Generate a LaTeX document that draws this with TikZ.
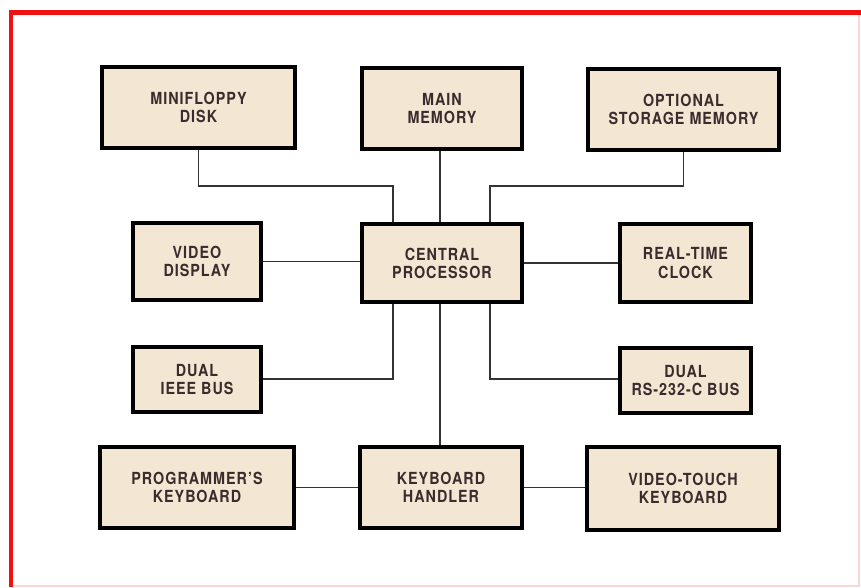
\documentclass[tikz,border=0pt]{standalone}
\usepackage{fontspec}
\setmainfont{TeX Gyre Heros}[FakeStretch=0.86,LetterSpace=6]
\definecolor{boxfill}{HTML}{F3E6D3}
\definecolor{txt}{HTML}{3A2C2C}
\definecolor{frame}{HTML}{F01010}
\definecolor{faint}{HTML}{F8D8D4}
\begin{document}
\begin{tikzpicture}[x=0.75pt,y=-0.75pt,
  blk/.style={draw=black,line width=2.3pt,fill=boxfill,align=center,
    font=\fontsize{12.5}{13.6}\selectfont\bfseries,text=txt,inner sep=0pt},
  wire/.style={draw=black!80,line width=1.1pt}]
\useasboundingbox (0,0) rectangle (861,588);
\fill[white] (0,0) rectangle (861,588);
% frame
\draw[faint,line width=1.2pt] (859,12) -- (859,586) -- (11,586);
\draw[frame,line width=3.4pt] (11,587) -- (11,12.5) -- (861,12.5);
% boxes
\node[blk,minimum width=144.75pt,minimum height=60.75pt] (mf) at (198.5,107.5) {MINIFLOPPY\\DISK};
\node[blk,minimum width=120pt,minimum height=60.75pt] (mm) at (442,108.5) {MAIN\\MEMORY};
\node[blk,minimum width=143.25pt,minimum height=60.75pt] (os) at (683.5,109.5) {OPTIONAL\\STORAGE MEMORY};
\node[blk,minimum width=96pt,minimum height=57.75pt] (vd) at (197,261.5) {VIDEO\\DISPLAY};
\node[blk,minimum width=120pt,minimum height=58.5pt] (cp) at (442,263) {CENTRAL\\PROCESSOR};
\node[blk,minimum width=98.25pt,minimum height=58.5pt] (rtc) at (685.5,263) {REAL-TIME\\CLOCK};
\node[blk,minimum width=96pt,minimum height=48.75pt] (ieee) at (197,379.5) {DUAL\\IEEE BUS};
\node[blk,minimum width=98.25pt,minimum height=48.75pt] (rs) at (685.5,380.5) {DUAL\\RS-232-C BUS};
\node[blk,minimum width=145.5pt,minimum height=60.75pt] (pk) at (197,487.5) {PROGRAMMER'S\\KEYBOARD};
\node[blk,minimum width=121.5pt,minimum height=60.75pt] (kh) at (441,487.5) {KEYBOARD\\HANDLER};
\node[blk,minimum width=144pt,minimum height=62.25pt] (vt) at (683,488.5) {VIDEO-TOUCH\\KEYBOARD};
% junction coordinates
\coordinate (jmf) at (393,186);
\coordinate (jos) at (490,186);
\coordinate (jie) at (393,379);
\coordinate (jrs) at (490,379);
\begin{scope}[on background layer/.try]
\draw[wire] (mf.south) |- (jmf) -- (jmf |- cp.north);
\draw[wire] (os.south) |- (jos) -- (jos |- cp.north);
\draw[wire] (mm.south -| 440,0) -- (cp.north -| 440,0);
\draw[wire] (vd.east) -- (vd.east -| cp.west);
\draw[wire] (cp.east) -- (cp.east -| rtc.west);
\draw[wire] (jie |- cp.south) -- (jie) -- (jie -| ieee.east);
\draw[wire] (jrs |- cp.south) -- (jrs) -- (jrs -| rs.west);
\draw[wire] (cp.south -| 440,0) -- (kh.north -| 440,0);
\draw[wire] (pk.east) -- (pk.east -| kh.west);
\draw[wire] (kh.east) -- (kh.east -| vt.west);
\end{scope}
\end{tikzpicture}
\end{document}
